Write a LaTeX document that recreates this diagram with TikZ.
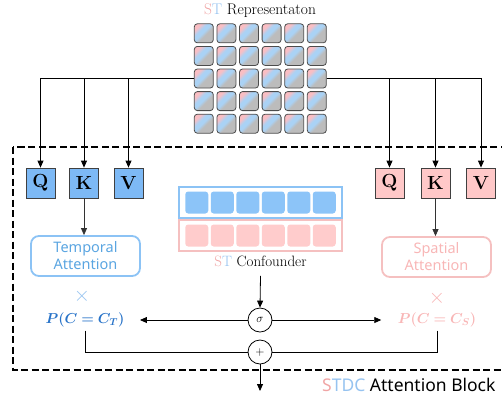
\documentclass[tikz,border=0pt]{standalone}
\usepackage{fontspec}
\usepackage{amsmath}
\usepackage{bm}
\newfontfamily\sansfont{Noto Sans}
\usetikzlibrary{arrows.meta}

\definecolor{qblue}{RGB}{125,185,245}
\definecolor{qpink}{RGB}{255,200,200}
\definecolor{blueline}{RGB}{140,195,245}
\definecolor{pinkline}{RGB}{245,192,192}
\definecolor{bluecell}{RGB}{140,196,248}
\definecolor{pinkcell}{RGB}{255,204,204}
\definecolor{bluetext}{RGB}{90,165,225}
\definecolor{pinktext}{RGB}{248,182,182}
\definecolor{deepblue}{RGB}{40,115,200}
\definecolor{lblue}{RGB}{150,195,240}
\definecolor{lpink}{RGB}{240,165,165}
\definecolor{gcell}{RGB}{188,188,188}
\definecolor{cellblue}{RGB}{170,210,245}
\definecolor{cellpink}{RGB}{250,190,195}

% diagonal pink / blue / grey fill of the representation tokens
\pgfdeclareverticalshading{tokenshade}{100bp}{color(0bp)=(gcell); color(44bp)=(gcell);
  color(53bp)=(cellblue); color(62bp)=(cellblue); color(73bp)=(cellpink); color(100bp)=(cellpink)}

\tikzset{
  arr/.style={-{Triangle[length=7pt,width=6pt]}, line width=0.8pt},
  link/.style={line width=0.8pt},
  cell/.style={draw=black!70, line width=0.8pt, rounded corners=3pt,
    minimum width=19pt, minimum height=19pt, inner sep=0pt,
    shading=tokenshade, shading angle=45},
  qbox/.style={draw=black!75, line width=0.8pt, minimum width=29pt, minimum height=30pt,
    inner sep=0pt, font=\fontsize{19}{19}\selectfont\bfseries},
  attbox/.style={rounded corners=8pt, line width=1.8pt, minimum width=109pt,
    minimum height=40pt, align=center, inner sep=0pt,
    font=\sansfont\fontsize{14.5}{17}\selectfont},
  confbox/.style={line width=1.4pt, minimum width=163pt, minimum height=31pt, inner sep=0pt},
  ccell/.style={rounded corners=3pt, minimum width=23pt, minimum height=22pt, inner sep=0pt},
  opnode/.style={circle, draw, line width=0.8pt, minimum size=24pt, inner sep=0pt,
    font=\fontsize{12}{12}\selectfont}
}

\begin{document}
\begin{tikzpicture}[x=1pt, y=-1pt]
\useasboundingbox (0,0) rectangle (502,400);

% title and the spatio-temporal grid
\node (title) at (260,11) {\fontsize{15.5}{15.5}\selectfont\textcolor{lpink}{S}\textcolor{lblue}{T} Representaton};
\foreach \i in {0,...,5}
  \foreach \j in {0,...,4}
    \node[cell] (c\i\j) at ({203.8+22.6*\i},{33.3+22.6*\j}) {};

% attention block frame
\draw[line width=2.2pt, dash pattern=on 7pt off 3.5pt] (13,147) rectangle (515,370);

% query / key / value boxes
\node[qbox, fill=qblue] (tq) at (40.5,183) {Q};
\node[qbox, fill=qblue] (tk) at (84,183) {K};
\node[qbox, fill=qblue] (tv) at (128.5,183) {V};
\node[qbox, fill=qpink] (sq) at (389.5,183) {Q};
\node[qbox, fill=qpink] (sk) at (435.5,183) {K};
\node[qbox, fill=qpink] (sv) at (481,183) {V};

\draw[arr] (c02.west) -| (tq.north);
\draw[arr] (c02.west) -| (tk.north);
\draw[arr] (c02.west) -| (tv.north);
\draw[arr] (c52.east) -| (sq.north);
\draw[arr] (c52.east) -| (sk.north);
\draw[arr] (c52.east) -| (sv.north);

% attention modules
\node[attbox, draw=blueline, text=bluetext] (tatt) at (85.5,256) {Temporal\\Attention};
\node[attbox, draw=pinkline, text=pinktext] (satt) at (436.5,257) {Spatial\\Attention};
\draw[arr, black!80] (tk.south) -- (tk.south |- tatt.north);
\draw[arr, black!80] (sk.south) -- (sk.south |- satt.north);

% confounder
\node[confbox, draw=blueline] (cb) at (260.5,202.5) {};
\node[confbox, draw=pinkline] (cp) at (260.5,235.5) {};
\foreach \i in {0,...,5} {
  \node[ccell, fill=bluecell] (cbc\i) at ({196.75+25.5*\i},202.5) {};
  \node[ccell, fill=pinkcell] (cpc\i) at ({196.75+25.5*\i},235.5) {};
}
\node (conf) at (260.5,261) {\fontsize{15}{15}\selectfont\textcolor{lpink}{S}\textcolor{lblue}{T} Confounder};

% gating and fusion
\node[opnode] (sig) at (260,320) {$\sigma$};
\draw[arr] ([yshift=-6pt]conf.south) -- (sig.north);

\node[text=deepblue, font=\fontsize{14}{14}\selectfont] (pt) at (85,320) {$\bm{P(C=C_T)}$};
\node[text=pinktext, font=\fontsize{14}{14}\selectfont] (ps) at (437,320) {$\bm{P(C=C_S)}$};
\node[text=lblue, font=\fontsize{20}{20}\selectfont] (xt) at (82,296) {$\times$};
\node[text=pinktext, font=\fontsize{20}{20}\selectfont] (xs) at (437,298) {$\times$};

\draw[arr] (sig.west) -- ([xshift=12pt]pt.east);
\draw[arr] (sig.east) -- ([xshift=-13pt]ps.west);

\node[opnode] (plus) at (260,352) {$+$};
\draw[link] (pt.south) |- (plus.west);
\draw[link] (ps.south) |- (plus.east);
\coordinate (out) at (260,391);
\draw[arr] (plus.south) -- (out);

\node[anchor=east, font=\sansfont\fontsize{17.5}{17.5}\selectfont] (blk) at (499,385)
  {\textcolor{lpink}{S}\textcolor{lblue}{TDC} Attention Block};
\end{tikzpicture}
\end{document}
